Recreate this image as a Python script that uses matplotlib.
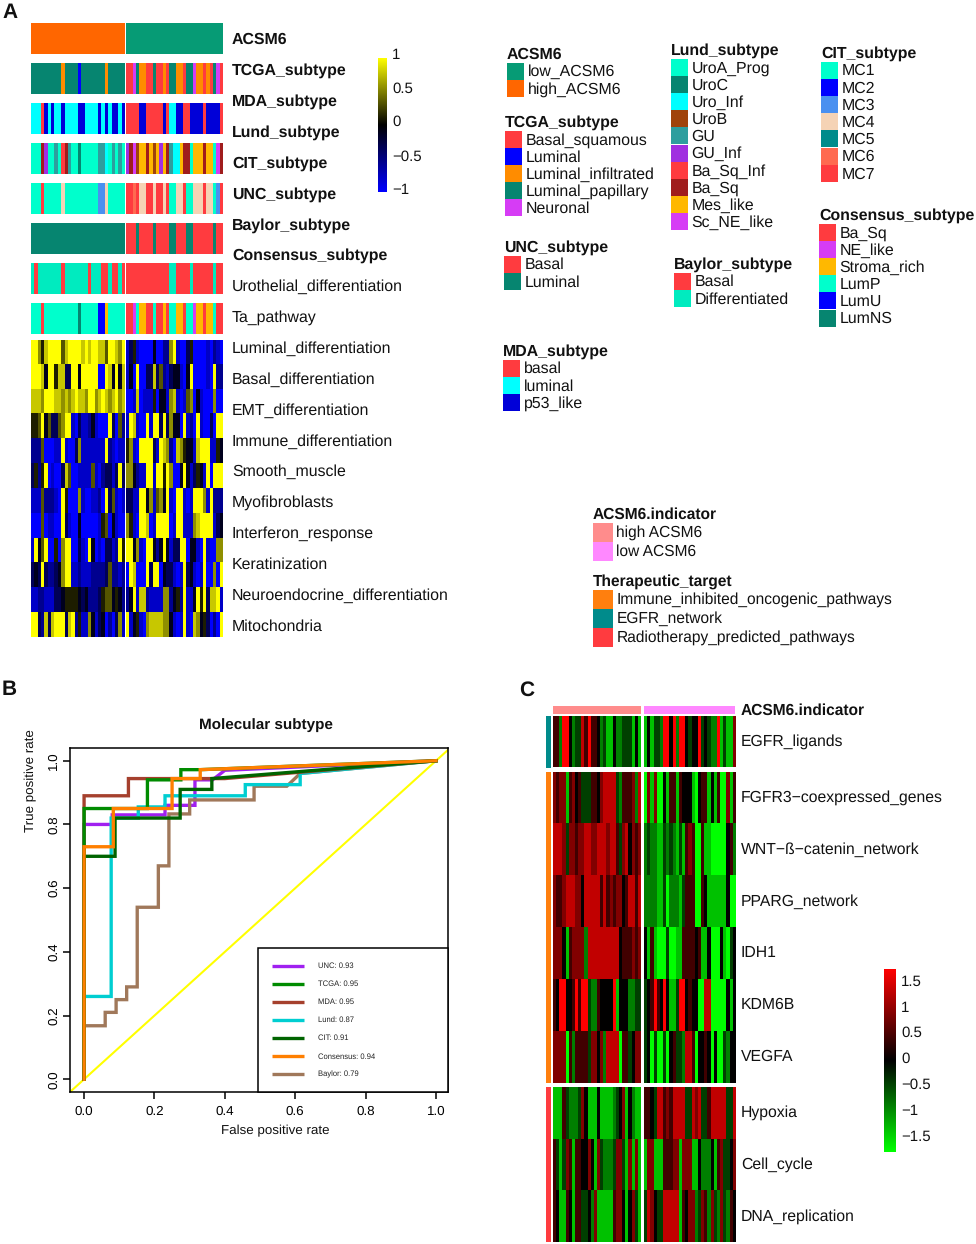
# -*- coding: utf-8 -*-
import numpy as np
import matplotlib
matplotlib.use('Agg')
import matplotlib.pyplot as plt
from matplotlib.colors import LinearSegmentedColormap, ListedColormap
from matplotlib.patches import Rectangle

plt.rcParams['font.family'] = ['Liberation Sans', 'DejaVu Sans']
plt.rcParams['text.hinting'] = 'none'
W, H = 976, 1244

# subtype legends
red, blue, teal, aqua, cyan = '#FF3B3F', '#0000FF', '#068570', '#00FFCC', '#00FFFF'
mag, amber = '#D63CF5', '#FFB800'
acsm6_names = ['low_ACSM6', 'high_ACSM6']
acsm6_cols = ['#069B75', '#FF6600']
tcga_names = ['Basal_squamous', 'Luminal', 'Luminal_infiltrated', 'Luminal_papillary', 'Neuronal']
tcga_cols = [red, blue, '#FF8C00', teal, mag]
unc_names = ['Basal', 'Luminal']
unc_cols = [red, teal]
mda_names = ['basal', 'luminal', 'p53_like']
mda_cols = [red, cyan, '#0000D8']
lund_names = ['UroA_Prog', 'UroC', 'Uro_Inf', 'UroB', 'GU', 'GU_Inf', 'Ba_Sq_Inf', 'Ba_Sq', 'Mes_like', 'Sc_NE_like']
lund_cols = [aqua, teal, cyan, '#A0430A', '#2E9E9E', '#A02FE0', red, '#A01C1C', amber, mag]
baylor_names = ['Basal', 'Differentiated']
baylor_cols = [red, '#00EBBF']
cit_names = ['MC1', 'MC2', 'MC3', 'MC4', 'MC5', 'MC6', 'MC7']
cit_cols = [aqua, blue, '#4A90F0', '#F5D3B5', '#008B8B', '#FF6A50', red]
cons_names = ['Ba_Sq', 'NE_like', 'Stroma_rich', 'LumP', 'LumU', 'LumNS']
cons_cols = [red, mag, amber, aqua, blue, teal]
ind_names = ['high ACSM6', 'low ACSM6']
ind_cols = ['#FF8C8C', '#FF88FF']
target_names = ['Immune_inhibited_oncogenic_pathways', 'EGFR_network', 'Radiotherapy_predicted_pathways']
target_cols = ['#FF7F0E', '#008B8B', red]

# annotation tracks, a letter per sample: 28 low then 29 high
track_acsm6 = 'H' * 28 + 'L' * 29
track_tcga = 'TTTTTTTTTOTTTTBTTTTTTTOTTTTT' + 'RRMTOORRTRRORTTOORTTMOORORTMR'
track_mda = 'CCCRBCBCCBCCCCBBCCCCBCBCBBCB' + 'RRRRBBRRRRRBRCCBBRRBBBBRBBBBR'
track_lund = 'AAADPAAGARDGAAKAAAAAGGCAGAGA' + 'PDMUYYDYUYPYDGCCYDDAYYYDYYAMD'
track_cit = 'AAARAAAAASAAAAAAAAAAEESAAAAA' + 'RRORSSRRSRRSRAASSRAASSSRSSAER'
track_unc = 'T' * 28 + 'RRRTRRRRTRRRRTTRRRTTRRRRRRTRR'
track_baylor = 'DRDDDDDDDRDDDDDDDRDDDRRDRRDR' + 'R' * 13 + 'DDRRRRDRRRRRRDRR'
track_cons = 'PPPRPPPPPPPPPPLPPPPPUUSPPPPP' + 'RRNPSSRRPRRSRPPSSRPPNSSRSSPRR'

# panel A heat map, 0 = -1 (blue) ... 9 = +1 (yellow)
heat_a_low = ['9975899996899998989988699879', '9998499588339949999900984948',
              '8887999887878988799789878978',
              '5569463367991031124100093062', '2226000119100371111111921011',
              '3525901003860011116102331393', '1116222109500071001120936101',
              '0006011009310040000015604100', '1946900507990031094010331295',
              '3439322347991121112222362212', '1122111334555543422235664542',
              '9932838999389251174134020371']
heat_a_high = ['13510000400227910035000010210', '14090033836213441049000010922',
               '00180111504417810167041000700', '19810091993937440912091003099',
               '57109999319872087544189991154', '77421199199597004941354190999',
               '33119947167491099101999719222', '75109980199990199111789999134',
               '99471099424941339904410910077', '09800093990433101934101900709',
               '24918821111772452911495938891', '91451078888774101910874530209']
# panel C heat map, 0 = bright green ... 4 = black ... 8 = bright red
heat_c_low = ['5528842337585542311422333141', '6566156453335546777732555627',
              '7776366566776677767753674656', '6556777664777775756566457757',
              '6664156666277777777774555656', '5488445858832254444814442233',
              '6666052555536646277770553466', '1115322236411141111234614211',
              '5313651554464163222366316161', '5411541553342611111566414631']
heat_c_high = ['14133288482884344834322813116', '06160041551544410455141500615',
               '23221132321315650051100000452', '22221130222135550054111111400',
               '41510003001155554511400041034', '34585484113884544007700000414',
               '34030030453327750445404003244', '55437756577773376733577777337',
               '16611155566166611422241563346', '37643377777154662365263263254']
heat_a_labels = ['Luminal_differentiation', 'Basal_differentiation', 'EMT_differentiation',
                 'Immune_differentiation', 'Smooth_muscle', 'Myofibroblasts', 'Interferon_response',
                 'Keratinization', 'Neuroendocrine_differentiation', 'Mitochondria']
track_labels = ['ACSM6', 'TCGA_subtype', 'MDA_subtype', 'Lund_subtype', 'CIT_subtype',
                'UNC_subtype', 'Baylor_subtype', 'Consensus_subtype']
thin_labels = ['Urothelial_differentiation', 'Ta_pathway']
pathway_labels = ['EGFR_ligands', 'FGFR3\u2212coexpressed_genes', 'WNT\u2212\u00df\u2212catenin_network',
                  'PPARG_network', 'IDH1', 'KDM6B', 'VEGFA', 'Hypoxia', 'Cell_cycle', 'DNA_replication']

# ROC curves, vertices
unc_x = [0, 0, .08, .08, .23, .23, .315, .315, .365, .40, 1]
unc_y = [0, .80, .80, .83, .83, .86, .86, .94, .94, .97, 1]
tcga_x = [0, 0, .18, .18, .275, .275, .33, 1]
tcga_y = [0, .85, .85, .94, .94, .972, .972, 1]
mda_x = [0, 0, .126, .126, .40, 1]
mda_y = [0, .89, .89, .944, .944, 1]
lund_x = [0, 0, .077, .077, .154, .154, .23, .23, .458, .458, .614, .614, 1]
lund_y = [0, .26, .26, .82, .82, .855, .855, .89, .89, .925, .925, .96, 1]
cit_x = [0, 0, .088, .088, .273, .273, .363, .363, 1]
cit_y = [0, .70, .70, .82, .82, .91, .91, .944, 1]
cons_x = [0, 0, .083, .083, .25, .25, .33, .33, 1]
cons_y = [0, .73, .73, .85, .85, .944, .944, .972, 1]
bay_x = [0, 0, .06, .06, .091, .091, .121, .121, .151, .151, .211, .211, .241, .241, .30, .30, .483, .483, .576, .614, 1]
bay_y = [0, .168, .168, .21, .21, .25, .25, .29, .29, .54, .54, .67, .67, .833, .833, .877, .877, .92, .92, .96, 1]
roc_names = ['UNC: 0.93', 'TCGA: 0.95', 'MDA: 0.95', 'Lund: 0.87', 'CIT: 0.91', 'Consensus: 0.94', 'Baylor: 0.79']
roc_cols = ['#A020F0', '#008B00', '#A5402D', '#00CED1', '#006400', '#FF7F00', '#A0785A']

fig = plt.figure(figsize=(W / 100, H / 100), dpi=100)


def px_axes(x0, y0, x1, y1):
    # axes from pixel box, y going down
    return fig.add_axes([x0 / W, 1 - y1 / H, (x1 - x0) / W, (y1 - y0) / H])


def draw_heat(rows_low, rows_high, cmap, vmin, vmax, digit_max, x0, x1, x2, x3, y0, y1):
    low = np.array([[int(c) for c in r] for r in rows_low], dtype=float) / digit_max * (vmax - vmin) + vmin
    high = np.array([[int(c) for c in r] for r in rows_high], dtype=float) / digit_max * (vmax - vmin) + vmin
    for data, a, b in [(low, x0, x1), (high, x2, x3)]:
        ax = px_axes(a, y0, b, y1)
        ax.imshow(data, cmap=cmap, vmin=vmin, vmax=vmax, aspect='auto', interpolation='nearest')
        ax.axis('off')


def draw_track(track, codes, cols, y0, y1):
    vals = np.array([[codes.index(c) for c in track]])
    cmap = ListedColormap(cols)
    for part, a, b in [(vals[:, :28], 31.3, 125), (vals[:, 28:], 126, 223)]:
        ax = px_axes(a, y0, b, y1)
        ax.imshow(part, cmap=cmap, vmin=-.5, vmax=len(cols) - .5, aspect='auto', interpolation='nearest')
        ax.axis('off')


# ---- panel A
bwy = LinearSegmentedColormap.from_list('bwy', ['#0000FF', '#000000', '#FFFF00'])
track_y = [23.3, 63.3, 103.3, 143.3, 183.3, 223.3, 263.3, 303.3]
track_info = [(track_acsm6, 'LH', acsm6_cols), (track_tcga, 'RBOTM', tcga_cols), (track_mda, 'RCB', mda_cols),
              (track_lund, 'AKCUGPRDYM', lund_cols), (track_cit, 'ABESFOR', cit_cols), (track_unc, 'RT', unc_cols),
              (track_baylor, 'RD', baylor_cols), (track_cons, 'RNSPUL', cons_cols)]
for (tr, codes, cols), y in zip(track_info, track_y):
    draw_track(tr, codes, cols, y, y + 30.5)
draw_heat(heat_a_low, heat_a_high, bwy, -1, 1, 9, 31.3, 125, 126, 223, 340, 637.5)

# colour bars
cb = px_axes(378, 58, 387, 192)
cb.imshow(np.linspace(1, -1, 256)[:, None], cmap=bwy, aspect='auto', vmin=-1, vmax=1)
cb.axis('off')
rg = LinearSegmentedColormap.from_list('rg', ['#00FF00', '#000000', '#FF0000'])
cb2 = px_axes(883.5, 969, 895.5, 1152)
cb2.imshow(np.linspace(1.77, -1.77, 256)[:, None], cmap=rg, aspect='auto', vmin=-1.77, vmax=1.77)
cb2.axis('off')

# ---- panel C
c_groups = [(716, 767.5, heat_c_low[:1], heat_c_high[:1], '#008B8B'),
            (771.5, 1083, heat_c_low[1:7], heat_c_high[1:7], '#FF7F0E'),
            (1087, 1242, heat_c_low[7:], heat_c_high[7:], red)]
for y0, y1, rl, rh, col in c_groups:
    draw_heat(rl, rh, rg, -1.77, 1.77, 8, 553, 641, 644, 735, y0, y1)

# ---- panel B
ax = px_axes(70, 748, 448, 1092)
ax.plot([-.04, 1.04], [-.04, 1.04], color='#FFFF00', lw=1.5, zorder=1)
roc_xy = [(unc_x, unc_y), (tcga_x, tcga_y), (mda_x, mda_y), (lund_x, lund_y), (cit_x, cit_y), (cons_x, cons_y), (bay_x, bay_y)]
order = [0, 6, 3, 2, 1, 4, 5]
for i in order:
    ax.plot(roc_xy[i][0], roc_xy[i][1], color=roc_cols[i], lw=2.4, solid_joinstyle='miter', zorder=2)
ax.set_xlim(-.04, 1.034)
ax.set_ylim(-.04, 1.04)
ax.set_xticks(np.arange(0, 1.01, .2))
ax.set_yticks(np.arange(0, 1.01, .2))
ax.set_xticklabels(['0.0', '0.2', '0.4', '0.6', '0.8', '1.0'], fontsize=9.6)
ax.set_yticklabels(['0.0', '0.2', '0.4', '0.6', '0.8', '1.0'], fontsize=9.6, rotation=90, va='center')
ax.tick_params(axis='x', length=4.8, width=1.1, pad=5)
ax.tick_params(axis='y', length=4.8, width=1.1, pad=2.5)
for s in ax.spines.values():
    s.set_linewidth(1.1)

# ---- overlay in pixels for the texts and the legends
ov = fig.add_axes([0, 0, 1, 1])
ov.set_xlim(0, W)
ov.set_ylim(H, 0)
ov.axis('off')
ov.patch.set_alpha(0)
FS = 11.4
FS2 = 11.2


def txt(x, y, s, size=FS, weight='normal', ha='left', rotation=0):
    ov.text(x, y, s, fontsize=size, fontweight=weight, ha=ha, va='center', color='#111111', rotation=rotation)


for s, x, y in [('A', 2, 13), ('B', 2, 690), ('C', 519, 690)]:
    txt(x, y, s, 15, 'bold')

txt(266, 725.5, 'Molecular subtype', 11, 'bold', 'center')
txt(275, 1131, 'False positive rate', 9.6, 'normal', 'center')
txt(31, 781, 'True positive rate', 9.6, 'normal', 'center', 90)

label_y = [39.5, 70.5, 101.5, 132.5, 163.5, 194.5, 225.5, 255.5]
for s, y in zip(track_labels, label_y):
    txt(232, y, s, FS, 'bold')
for s, y in zip(thin_labels + heat_a_labels, [286.5, 317.5, 348.5, 379.5, 410.5, 441.5, 471.5, 502.5, 533.5, 564.5, 595.5, 626.5]):
    txt(232, y, s)

for s, y in zip(['1', '0.5', '0', '\u22120.5', '\u22121'], [55, 89, 122, 157, 190]):
    txt(392, y, s, 10.8)
for s, y in zip(['1.5', '1', '0.5', '0', '\u22120.5', '\u22121', '\u22121.5'], [982, 1008, 1033, 1059, 1085, 1111, 1137]):
    txt(901, y, s, 10.8)

# legend groups: title, names, colours, swatch x, title y, row pitch, swatch width, font size
legends = [('ACSM6', acsm6_names, acsm6_cols, 507, 54.5, 17.2, 17, FS),
           ('TCGA_subtype', tcga_names, tcga_cols, 505, 122.5, 17.2, 17, FS),
           ('UNC_subtype', unc_names, unc_cols, 504, 247.5, 17.2, 17, FS),
           ('MDA_subtype', mda_names, mda_cols, 503, 351.5, 17.2, 17, FS),
           ('Lund_subtype', lund_names, lund_cols, 671, 50.5, 17.2, 17, FS),
           ('CIT_subtype', cit_names, cit_cols, 821, 53.5, 17.2, 17, FS),
           ('Consensus_subtype', cons_names, cons_cols, 819, 215.5, 17.2, 17, FS),
           ('Baylor_subtype', baylor_names, baylor_cols, 674, 264.5, 17.2, 17, FS),
           ('ACSM6.indicator', ind_names, ind_cols, 593, 514.5, 19, 20, FS2),
           ('Therapeutic_target', target_names, target_cols, 593, 581.5, 19, 20, FS2)]
for title, names, cols, x, y, pitch, sw, fs in legends:
    txt(x, y, title, fs, 'bold')
    top = y + 8
    for i, (n, c) in enumerate(zip(names, cols)):
        ov.add_patch(Rectangle((x, top + i * pitch), sw, pitch, fc=c, ec='none'))
        txt(x + sw + 3.5, top + (i + .5) * pitch + 1, n, fs)

# panel C side bars, top bars, labels
for y0, y1, rl, rh, col in c_groups:
    ov.add_patch(Rectangle((546, y0), 5.3, y1 - y0, fc=col, ec='none'))
ov.add_patch(Rectangle((553, 706), 88, 7.5, fc=ind_cols[0], ec='none'))
ov.add_patch(Rectangle((644, 706), 91, 7.5, fc=ind_cols[1], ec='none'))
txt(741, 710.5, 'ACSM6.indicator', FS2, 'bold')
for s, y in zip(pathway_labels, [742, 798, 850, 902, 953, 1005, 1057, 1113, 1165, 1217]):
    txt(741, y, s, 11.3)

# ROC legend box
ov.add_patch(Rectangle((258, 948), 190, 144, fc='white', ec='black', lw=1.1, zorder=3))
for i, (n, c) in enumerate(zip(roc_names, roc_cols)):
    yy = 966 + i * 18.08
    ov.plot([272, 304], [yy, yy], color=c, lw=2.4, zorder=4, solid_capstyle='butt')
    ov.text(318, yy, n, fontsize=5.5, va='center', color='#222222', zorder=4)

fig.savefig('out.png', dpi=100)
